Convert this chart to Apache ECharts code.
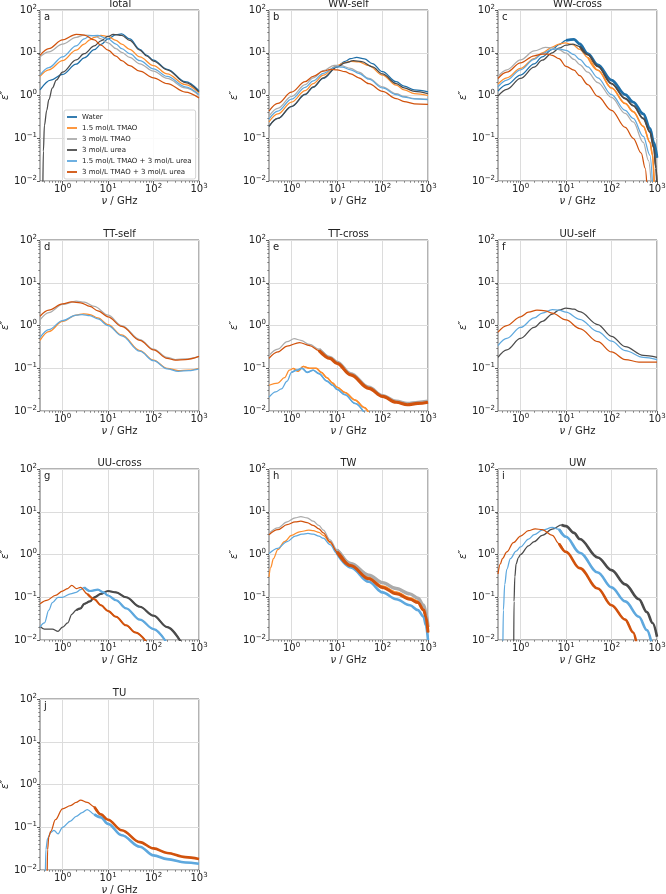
<!DOCTYPE html>
<html>
<head>
<meta charset="utf-8">
<script src="https://cdn.jsdelivr.net/npm/echarts@6/dist/echarts.min.js"></script>
<style>
    html, body {margin: 0; padding: 0; background: #fff;}
    #main {width: 666px; height: 894px;}
</style>
</head>
<body>
<div id="main"></div>
<script>
// legend names / colours
var NAMES = ['Water', '1.5 mol/L TMAO', '3 mol/L TMAO', '3 mol/L urea',
    '1.5 mol/L TMAO + 3 mol/L urea', '3 mol/L TMAO + 3 mol/L urea'];
var COLORS = ['#1f6fa8', '#fd8d2c', '#ababab', '#4b4b4b', '#5ea8de', '#d1520c'];

// axes
var X_MIN = 0.32, X_MAX = 1000, Y_MIN = 0.01, Y_MAX = 100;
var X_MAJOR = [1, 10, 100, 1000];
var Y_MAJOR = [0.01, 0.1, 1, 10, 100];
var X_MINOR = [0.4, 0.5, 0.6, 0.7, 0.8, 0.9, 2, 3, 4, 5, 6, 7, 8, 9, 20, 30, 40, 50, 60, 70, 80, 90,
    200, 300, 400, 500, 600, 700, 800, 900];
var Y_MINOR = [0.02, 0.03, 0.04, 0.05, 0.06, 0.07, 0.08, 0.09, 0.2, 0.3, 0.4, 0.5, 0.6, 0.7, 0.8, 0.9,
    2, 3, 4, 5, 6, 7, 8, 9, 20, 30, 40, 50, 60, 70, 80, 90];

// a - Total  [GHz, eps'']
var a_water = [[0.32,1.35],[0.55,2.3],[1,3.1],[2,5.4],[3,7.6],[5,11.8],[7,15.6],[10,21],[15,26.5],[20,27.5],[30,21],[50,12],[70,8.8],[100,6.7],[200,4.1],[500,2.1],[1000,1.29]];
var a_tmao15 = [[0.32,2.8],[0.5,4],[1,6.5],[2,11.5],[3,16],[4,20],[5,23],[7,25.5],[10,24],[15,19.5],[20,16],[30,12],[50,8],[100,5],[200,3.2],[500,1.8],[1000,1.15]];
var a_tmao3 = [[0.32,8],[0.5,10.5],[1,16],[2,23],[3,26],[5,25],[7,21],[10,17],[15,12.5],[20,10.2],[30,7.8],[50,5.5],[100,3.7],[200,2.5],[500,1.5],[1000,1.0]];
var a_urea = [[0.37,0.008],[0.38,0.05],[0.4,0.2],[0.45,0.45],[0.5,0.8],[0.6,1.5],[0.73,2.3],[1,3.5],[2,6.8],[3,9.5],[5,14.5],[7,19],[10,24],[13,27],[20,25.5],[30,19.5],[50,11.5],[70,8.5],[100,6.4],[200,4],[500,2],[1000,1.22]];
var a_mix15 = [[0.32,3.0],[0.5,4.5],[1,8],[2,14.5],[3,21],[4,25],[6,25.5],[10,21],[15,16],[20,12.5],[30,9.5],[50,6.5],[100,4.2],[200,2.8],[500,1.6],[1000,1.05]];
var a_mix3 = [[0.32,8.7],[0.5,12.5],[1,20],[2,27],[3,26],[5,20],[7,15],[10,11.5],[15,8.3],[20,6.5],[30,5],[50,3.7],[100,2.6],[200,1.9],[500,1.2],[1000,0.88]];

// b - WW-self
var b_water = [[0.32,0.19],[0.5,0.29],[1,0.55],[2,1.05],[3,1.55],[5,2.5],[10,4.7],[15,6.3],[20,7.3],[27,7.8],[40,7.2],[60,5.6],[100,3.6],[200,2.1],[300,1.65],[500,1.35],[1000,1.22]];
var b_tmao15 = [[0.32,0.24],[0.5,0.37],[1,0.7],[2,1.3],[3,1.9],[5,3],[10,5],[15,5.9],[20,6.3],[30,6.1],[50,5],[100,3],[200,1.75],[300,1.35],[500,1.1],[1000,1.0]];
var b_tmao3 = [[0.32,0.33],[0.5,0.5],[1,0.95],[2,1.8],[3,2.6],[5,3.8],[8.6,5.1],[12,5],[20,4.3],[30,3.5],[50,2.5],[100,1.6],[200,1.1],[300,0.95],[500,0.85],[1000,0.82]];
var b_urea = [[0.32,0.19],[0.5,0.29],[1,0.56],[2,1.07],[3,1.6],[5,2.6],[10,4.6],[15,5.8],[23,6.5],[35,6.2],[60,4.7],[100,3.2],[200,1.9],[300,1.5],[500,1.25],[1000,1.1]];
var b_mix15 = [[0.32,0.28],[0.5,0.43],[1,0.82],[2,1.55],[3,2.2],[5,3.3],[9.4,4.7],[13,4.6],[20,4],[30,3.3],[50,2.4],[100,1.5],[200,1.05],[300,0.92],[500,0.83],[1000,0.8]];
var b_mix3 = [[0.32,0.43],[0.5,0.65],[1,1.2],[2,2.1],[3,2.8],[5,3.7],[7.3,4.1],[10,4.0],[15,3.6],[20,3.2],[30,2.6],[50,1.9],[100,1.25],[200,0.85],[300,0.72],[500,0.64],[1000,0.62]];

// c - WW-cross
var c_water = [[0.32,1.27],[0.5,1.8],[1,3],[2,5.5],[3,8],[5,12],[7,15.5],[10,19.5],[15,20.5],[20,16],[30,9.5],[50,5.2],[100,2.3],[200,1.05],[300,0.7],[500,0.37],[700,0.17],[850,0.08],[1000,0.035]];
var c_tmao15 = [[0.32,1.85],[0.5,2.6],[1,4.3],[2,7.3],[3,10],[5,13.5],[7,16],[9.6,17],[14,15.5],[20,12],[30,7.8],[50,3.9],[100,1.5],[200,0.65],[300,0.42],[500,0.19],[700,0.08],[800,0.04],[870,0.008]];
var c_tmao3 = [[0.32,2.8],[0.5,4],[1,6.8],[2,11],[3.5,13.3],[5,13],[7,11.8],[10,9.8],[15,7],[20,5.3],[30,3.5],[50,2.0],[100,0.9],[200,0.38],[300,0.24],[500,0.08],[650,0.03],[750,0.008]];
var c_urea = [[0.32,0.97],[0.5,1.4],[1,2.5],[2,4.6],[3,6.7],[5,10],[7,12.8],[10,15],[14,16],[20,14],[30,9],[50,4.8],[100,1.9],[200,0.85],[300,0.58],[500,0.29],[700,0.14],[850,0.06],[950,0.02],[1000,0.008]];
var c_mix15 = [[0.32,1.6],[0.5,2.3],[1,4],[2,7],[3,9.5],[5,12],[7,12.3],[10,11.3],[15,9],[20,7],[30,4.7],[50,2.6],[100,1.05],[200,0.45],[300,0.29],[500,0.11],[700,0.04],[800,0.008]];
var c_mix3 = [[0.32,2.5],[0.5,3.5],[1,5.8],[2,8.5],[3,9.3],[4,9.3],[5,8.7],[7,7.3],[10,4.8],[15,3.9],[20,2.9],[30,1.8],[50,0.95],[100,0.45],[200,0.18],[300,0.1],[450,0.045],[550,0.02],[600,0.008]];

// d - TT-self
var d_tmao15 = [[0.32,0.45],[0.5,0.72],[1,1.25],[2,1.75],[2.9,1.88],[4,1.8],[6,1.5],[10,1.05],[20,0.6],[50,0.26],[100,0.155],[200,0.1],[350,0.088],[600,0.09],[1000,0.1]];
var d_tmao3 = [[0.32,1.35],[0.5,2.0],[1,3.1],[2,3.7],[3,3.5],[5,2.8],[10,1.75],[20,1.0],[50,0.47],[100,0.28],[200,0.18],[300,0.16],[500,0.165],[1000,0.19]];
var d_mix15 = [[0.32,0.52],[0.5,0.8],[1,1.3],[2,1.75],[2.7,1.8],[4,1.7],[6,1.42],[10,1.0],[20,0.57],[50,0.25],[100,0.15],[200,0.097],[350,0.085],[600,0.088],[1000,0.097]];
var d_mix3 = [[0.32,1.65],[0.5,2.3],[1,3.2],[1.6,3.55],[2.5,3.4],[4,2.8],[6,2.2],[10,1.6],[20,0.95],[50,0.45],[100,0.27],[200,0.17],[300,0.155],[500,0.16],[1000,0.19]];

// e - TT-cross
var e_tmao15 = [[0.32,0.04],[0.5,0.045],[0.7,0.06],[0.9,0.09],[1.1,0.1],[1.4,0.085],[1.8,0.11],[2.5,0.1],[3.5,0.1],[4.5,0.08],[6,0.06],[8,0.045],[10,0.036],[15,0.027],[25,0.018],[40,0.012],[50,0.009]];
var e_tmao3 = [[0.32,0.2],[0.5,0.28],[0.8,0.42],[1.15,0.49],[1.6,0.45],[2.5,0.36],[4,0.28],[7,0.18],[10,0.14],[20,0.075],[50,0.036],[100,0.023],[200,0.017],[350,0.015],[600,0.016],[1000,0.017]];
var e_mix15 = [[0.32,0.021],[0.45,0.028],[0.6,0.033],[0.8,0.05],[1,0.08],[1.3,0.09],[1.7,0.1],[2.2,0.08],[3,0.09],[4,0.075],[6,0.05],[8,0.04],[10,0.032],[15,0.024],[25,0.015],[40,0.009]];
var e_mix3 = [[0.32,0.17],[0.5,0.24],[0.8,0.33],[1.5,0.4],[2.5,0.34],[4,0.26],[7,0.17],[10,0.13],[20,0.07],[50,0.034],[100,0.022],[200,0.016],[350,0.014],[600,0.015],[1000,0.016]];

// f - UU-self
var f_urea = [[0.32,0.18],[0.5,0.27],[1,0.5],[2,0.9],[3,1.25],[5,1.85],[7,2.3],[10,2.55],[15,2.4],[20,2.1],[50,1.05],[100,0.56],[200,0.32],[500,0.2],[1000,0.18]];
var f_mix15 = [[0.32,0.34],[0.5,0.5],[1,0.9],[2,1.5],[3,1.95],[5,2.35],[7,2.3],[10,2.05],[20,1.4],[50,0.72],[100,0.43],[200,0.26],[500,0.18],[1000,0.16]];
var f_mix3 = [[0.32,0.7],[0.5,1.0],[1,1.6],[1.5,2.05],[2.3,2.3],[3.5,2.2],[5,1.95],[10,1.35],[20,0.85],[50,0.42],[100,0.24],[200,0.16],[400,0.14],[1000,0.14]];

// g - UU-cross
var g_urea = [[0.32,0.021],[0.4,0.018],[0.6,0.018],[0.8,0.016],[1,0.02],[1.3,0.025],[1.6,0.04],[2,0.05],[2.5,0.055],[3,0.07],[4,0.08],[5,0.1],[7,0.12],[10,0.14],[15,0.13],[25,0.1],[50,0.06],[100,0.037],[200,0.02],[400,0.009]];
var g_mix15 = [[0.32,0.02],[0.4,0.025],[0.5,0.05],[0.6,0.075],[0.8,0.1],[1,0.1],[1.5,0.12],[2,0.13],[2.5,0.15],[3,0.17],[4,0.14],[6,0.15],[8,0.13],[10,0.11],[15,0.085],[25,0.055],[50,0.03],[100,0.018],[190,0.009]];
var g_mix3 = [[0.32,0.07],[0.45,0.085],[0.7,0.11],[1,0.14],[1.3,0.16],[1.6,0.19],[2,0.16],[2.5,0.17],[3.5,0.12],[5,0.09],[7,0.065],[10,0.048],[15,0.035],[25,0.022],[40,0.015],[70,0.009]];

// h - TW
var h_tmao15 = [[0.32,0.3],[0.35,0.5],[0.4,0.8],[0.5,1.3],[0.7,2.0],[1,2.8],[1.5,3.4],[2.4,3.7],[3,3.6],[4,3.3],[5,2.8],[7,1.9],[10,1.2],[20,0.6],[50,0.29],[100,0.18],[200,0.13],[400,0.095],[600,0.08],[800,0.055],[900,0.035],[1000,0.015]];
var h_tmao3 = [[0.32,3.1],[0.5,4.2],[0.8,5.8],[1.2,7.2],[1.6,7.7],[2.2,7.2],[3,6],[4,4.8],[5,3.7],[7,2.2],[10,1.3],[20,0.62],[50,0.33],[100,0.22],[200,0.16],[400,0.12],[600,0.095],[800,0.065],[900,0.045],[1000,0.02]];
var h_mix15 = [[0.32,1.05],[0.5,1.4],[0.8,2.0],[1.2,2.7],[1.7,3.0],[2.3,3.1],[3,3.0],[4,2.7],[5,2.4],[7,1.7],[10,1.05],[20,0.5],[50,0.23],[100,0.13],[200,0.09],[400,0.065],[600,0.05],[800,0.035],[900,0.022],[1000,0.01]];
var h_mix3 = [[0.32,2.9],[0.5,3.8],[0.8,5.0],[1.2,5.8],[1.6,6.0],[2.2,5.6],[3,4.8],[4,4.0],[5,3.2],[7,2.0],[10,1.15],[20,0.55],[50,0.27],[100,0.17],[200,0.12],[400,0.09],[600,0.075],[800,0.05],[900,0.035],[1000,0.015]];

// i - UW
var i_urea = [[0.71,0.008],[0.72,0.08],[0.75,0.3],[0.8,0.6],[0.9,0.85],[1,1.0],[1.5,1.6],[2,2.0],[3,2.8],[5,3.9],[8,4.9],[10,4.6],[15,3.2],[20,2.3],[50,0.85],[100,0.43],[200,0.2],[400,0.09],[600,0.045],[800,0.025],[1000,0.012]];
var i_mix15 = [[0.41,0.008],[0.42,0.05],[0.45,0.2],[0.5,0.45],[0.6,0.8],[0.8,1.2],[1,1.5],[1.5,2.3],[2,2.9],[3,3.7],[5,4.3],[7,3.9],[10,2.6],[20,1.1],[50,0.38],[100,0.17],[200,0.08],[400,0.035],[600,0.017],[750,0.009]];
var i_mix3 = [[0.32,0.35],[0.36,0.6],[0.4,0.8],[0.5,1.15],[0.7,1.9],[1,2.7],[1.5,3.6],[2.1,4.0],[3,3.8],[5,2.8],[7,1.8],[10,1.15],[20,0.48],[50,0.16],[100,0.065],[200,0.03],[300,0.015],[350,0.009]];

// j - TU
var j_mix15 = [[0.42,0.008],[0.43,0.03],[0.47,0.055],[0.55,0.075],[0.65,0.085],[0.8,0.07],[1,0.1],[1.5,0.14],[2,0.18],[2.7,0.22],[3.5,0.26],[5,0.2],[7,0.17],[10,0.12],[20,0.065],[50,0.035],[100,0.022],[200,0.018],[500,0.015],[1000,0.014]];
var j_mix3 = [[0.46,0.008],[0.47,0.03],[0.5,0.06],[0.55,0.08],[0.7,0.15],[1,0.27],[1.5,0.32],[2,0.38],[2.5,0.43],[3.5,0.38],[5,0.3],[7,0.2],[10,0.15],[20,0.085],[50,0.045],[100,0.032],[200,0.025],[500,0.02],[1000,0.018]];

var PANELS = [
    {key: 'a', title: 'Total', lines: [[0, a_water], [1, a_tmao15], [2, a_tmao3], [3, a_urea], [4, a_mix15], [5, a_mix3]]},
    {key: 'b', title: 'WW-self', lines: [[0, b_water], [1, b_tmao15], [2, b_tmao3], [3, b_urea], [4, b_mix15], [5, b_mix3]]},
    {key: 'c', title: 'WW-cross', lines: [[0, c_water], [1, c_tmao15], [2, c_tmao3], [3, c_urea], [4, c_mix15], [5, c_mix3]]},
    {key: 'd', title: 'TT-self', lines: [[1, d_tmao15], [2, d_tmao3], [4, d_mix15], [5, d_mix3]]},
    {key: 'e', title: 'TT-cross', lines: [[1, e_tmao15], [2, e_tmao3], [4, e_mix15], [5, e_mix3]]},
    {key: 'f', title: 'UU-self', lines: [[3, f_urea], [4, f_mix15], [5, f_mix3]]},
    {key: 'g', title: 'UU-cross', lines: [[3, g_urea], [4, g_mix15], [5, g_mix3]]},
    {key: 'h', title: 'TW', lines: [[1, h_tmao15], [2, h_tmao3], [4, h_mix15], [5, h_mix3]]},
    {key: 'i', title: 'UW', lines: [[3, i_urea], [4, i_mix15], [5, i_mix3]]},
    {key: 'j', title: 'TU', lines: [[4, j_mix15], [5, j_mix3]]}
];

// noisy tails: panel -> series idx -> [from GHz, band width]
var NOISE = {
    c: {0: [9, 2.8], 3: [20, 1.8], 1: [30, 1.6]},
    e: {2: [4, 3.2], 5: [4, 3.2], 1: [1, 1.6], 4: [1, 1.6]},
    g: {3: [2, 2.2], 4: [3, 2.2], 5: [3, 2]},
    h: {2: [8, 3.4], 5: [8, 3], 1: [8, 2.2], 4: [8, 2.6]},
    i: {3: [8, 2.6], 4: [6, 2.6], 5: [6, 2.6]},
    j: {4: [4, 2.6], 5: [4, 2.6]}
};

var COL_LEFT = [40, 269, 498], ROW_TOP = [10, 240, 469, 699], W = 159, H = 171;
var FONT = 'DejaVu Sans';
var TICK_RICH = {
    b: {fontSize: 10, fontFamily: FONT, color: '#222', lineHeight: 13},
    s: {fontSize: 7, fontFamily: FONT, color: '#222', lineHeight: 8, verticalAlign: 'top'}
};

function pow10Label(v) {
    var e = Math.round(Math.log(v) / Math.LN10);
    return '{b|10}{s|' + String(e).replace('-', '\u2212') + '}';
}

var grids = [], xAxes = [], yAxes = [], series = [], graphics = [];

PANELS.forEach(function (p, i) {
    var left = COL_LEFT[i % 3], top = ROW_TOP[Math.floor(i / 3)];
    grids.push({left: left, top: top, width: W, height: H, show: true,
        borderColor: '#555', borderWidth: 0.9, backgroundColor: 'transparent', outerBoundsMode: 'none'});

    // major x
    xAxes.push({
        type: 'log', gridIndex: i, min: X_MIN, max: X_MAX, position: 'bottom',
        name: '{i|\u03BD} / GHz', nameLocation: 'middle', nameGap: 15,
        nameTextStyle: {fontSize: 10, color: '#222', fontFamily: FONT,
            rich: {i: {fontStyle: 'italic', fontSize: 10, fontFamily: FONT, color: '#222'}}},
        axisLine: {show: false},
        axisTick: {customValues: X_MAJOR, length: 3, lineStyle: {color: '#333', width: 0.8}},
        axisLabel: {customValues: X_MAJOR, formatter: pow10Label, margin: 2, rich: TICK_RICH},
        splitLine: {show: true, lineStyle: {color: '#dcdcdc', width: 1}}
    });
    // minor x ticks
    xAxes.push({
        type: 'log', gridIndex: i, min: X_MIN, max: X_MAX, position: 'bottom',
        axisLine: {show: false}, axisLabel: {show: false}, splitLine: {show: false},
        axisTick: {customValues: X_MINOR, length: 1.8, lineStyle: {color: '#444', width: 0.6}}
    });
    // major y
    yAxes.push({
        type: 'log', gridIndex: i, min: Y_MIN, max: Y_MAX, position: 'left',
        name: '\u03B5\u2033', nameLocation: 'middle', nameGap: 29, nameRotate: 90,
        nameTextStyle: {fontSize: 10, color: '#222', fontFamily: FONT, fontStyle: 'italic'},
        axisLine: {show: false},
        axisTick: {customValues: Y_MAJOR, length: 3, lineStyle: {color: '#333', width: 0.8}},
        axisLabel: {customValues: Y_MAJOR, formatter: pow10Label, margin: 3, rich: TICK_RICH},
        splitLine: {show: true, lineStyle: {color: '#dcdcdc', width: 1}}
    });
    // minor y ticks
    yAxes.push({
        type: 'log', gridIndex: i, min: Y_MIN, max: Y_MAX, position: 'left',
        axisLine: {show: false}, axisLabel: {show: false}, splitLine: {show: false},
        axisTick: {customValues: Y_MINOR, length: 1.8, lineStyle: {color: '#444', width: 0.6}}
    });

    var noise = NOISE[p.key] || {};
    p.lines.forEach(function (ln) {
        var k = ln[0], data = ln[1];
        series.push({
            type: 'line', name: NAMES[k], xAxisIndex: 2 * i, yAxisIndex: 2 * i,
            data: data, showSymbol: false, smooth: 0.35, smoothMonotone: 'x',
            clip: true, color: COLORS[k],
            lineStyle: {width: 1.25, color: COLORS[k]}, emphasis: {disabled: true}
        });
        if (noise[k]) {
            var from = noise[k][0];
            series.push({
                type: 'line', name: NAMES[k], xAxisIndex: 2 * i, yAxisIndex: 2 * i,
                data: data.filter(function (d) { return d[0] >= from; }),
                showSymbol: false, smooth: 0.35, smoothMonotone: 'x', clip: true, color: COLORS[k],
                lineStyle: {width: noise[k][1], color: COLORS[k]}, emphasis: {disabled: true}
            });
        }
    });

    graphics.push({type: 'text', x: left + W / 2, y: top - 6,
        style: {text: p.title, fontSize: 10, fontFamily: FONT, fill: '#222', align: 'center', verticalAlign: 'middle'}});
    graphics.push({type: 'text', x: left + 4, y: top + 7,
        style: {text: p.key, fontSize: 10, fontFamily: FONT, fill: '#222', align: 'left', verticalAlign: 'middle'}});
});

var chart = echarts.init(document.getElementById('main'), null, {renderer: 'canvas'});
chart.setOption({
    animation: false,
    backgroundColor: '#fff',
    grid: grids,
    xAxis: xAxes,
    yAxis: yAxes,
    legend: {
        data: NAMES, orient: 'vertical', left: 64, top: 110, icon: 'rect',
        itemWidth: 10, itemHeight: 1.8, itemGap: 3,
        padding: [3, 4, 3, 3], backgroundColor: 'rgba(255,255,255,0.85)',
        borderColor: '#d4d4d4', borderWidth: 1, borderRadius: 2,
        textStyle: {fontSize: 7, lineHeight: 8, fontFamily: FONT, color: '#222'}
    },
    graphic: graphics,
    series: series
});
</script>
</body>
</html>
